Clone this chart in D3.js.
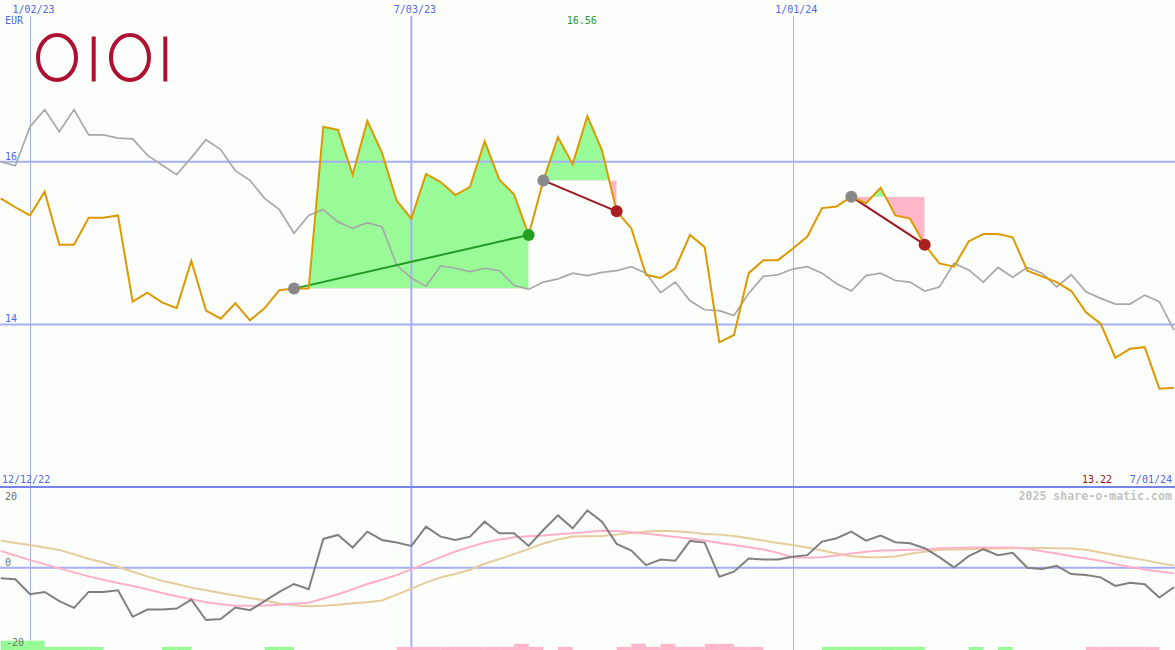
<!DOCTYPE html>
<html><head><meta charset="utf-8">
<script src="https://cdn.jsdelivr.net/npm/d3@7"></script>
<style>html,body{margin:0;padding:0;background:#fbfefb;}svg{display:block;}</style>
</head><body>
<svg id="chart" width="1175" height="650"></svg>
<script>
// ---------- DATA ----------
const startDate = new Date(2022, 11, 19);   // first weekly close
const endDate = new Date(2024, 6, 1);       // last weekly close
const tickDates = ["2023-01-02", "2023-07-03", "2024-01-01"];
const tickLabels = ["1/02/23", "7/03/23", "1/01/24"];
const priceTicks = [16, 14];
const oscTicks = [20, 0, -20];
const currency = "EUR";
const firstLabel = "12/12/22";
const lastLabel = "7/01/24";
const credit = "2025 share-o-matic.com";

// weekly closing price (EUR)
const price = [15.55,15.44,15.34,15.63,14.98,14.98,15.31,15.31,15.34,14.28,14.39,14.27,14.20,14.78,14.17,14.07,14.26,14.05,14.20,14.42,
  14.44,14.44,16.43,16.39,15.84,16.50,16.11,15.52,15.30,15.85,15.75,15.59,15.69,16.25,15.78,15.60,15.10,15.77,16.30,15.97,
  16.56,16.14,15.39,15.18,14.61,14.57,14.69,15.10,14.95,13.78,13.87,14.63,14.79,14.79,14.93,15.08,15.43,15.45,15.57,15.49,
  15.68,15.34,15.30,14.98,14.75,14.71,15.02,15.11,15.11,15.07,14.66,14.59,14.52,14.41,14.15,14.01,13.59,13.70,13.72,13.21,13.22];
// comparison index (rebased)
const benchmark = [16.00,15.95,16.43,16.64,16.37,16.64,16.33,16.33,16.29,16.28,16.08,15.96,15.84,16.05,16.27,16.15,15.89,15.77,15.55,15.41,
  15.12,15.34,15.41,15.26,15.18,15.25,15.20,14.73,14.57,14.47,14.72,14.69,14.65,14.69,14.66,14.48,14.43,14.52,14.56,14.63,
  14.60,14.64,14.66,14.71,14.63,14.39,14.52,14.29,14.18,14.17,14.11,14.38,14.59,14.61,14.68,14.71,14.63,14.50,14.41,14.60,
  14.63,14.54,14.52,14.41,14.46,14.75,14.67,14.52,14.70,14.58,14.70,14.63,14.46,14.61,14.40,14.32,14.25,14.25,14.36,14.28,13.93];
// oscillator (lower panel)
const momentum = [-3.2,-3.5,-8.0,-7.3,-10.1,-12.1,-7.3,-7.3,-6.8,-14.8,-12.6,-12.6,-12.3,-9.6,-15.8,-15.5,-12.0,-12.8,-10.1,-7.3,
  -4.9,-6.5,8.7,9.9,6.1,10.9,8.4,7.6,6.6,12.4,9.4,8.4,9.4,13.9,10.4,10.4,6.6,11.4,15.8,11.9,
  17.3,13.9,7.2,5.2,0.8,2.5,2.1,8.1,7.6,-2.7,-1.2,2.8,2.5,2.5,3.3,3.8,7.9,8.9,10.9,8.2,
  9.7,7.7,7.4,5.9,3.2,0.1,3.5,5.6,3.8,4.5,0.0,-0.4,0.6,-1.9,-2.2,-2.9,-5.5,-4.5,-5.0,-9.0,-5.9];
const fastAvg = [5.1,3.7,2.3,1.1,-0.2,-1.4,-2.6,-3.6,-4.6,-5.5,-6.5,-7.6,-8.6,-9.5,-10.4,-11.0,-11.5,-11.5,-11.4,-11.2,
  -10.9,-10.6,-9.3,-8.0,-6.5,-4.9,-3.6,-2.2,-0.5,1.4,3.2,4.9,6.3,7.6,8.5,9.2,9.5,9.7,10.1,10.4,
  10.8,11.2,11.1,10.7,10.3,9.8,9.3,8.8,8.2,7.5,6.9,6.2,5.5,4.5,3.2,3.0,3.2,3.7,4.3,4.8,
  5.2,5.3,5.4,5.5,5.9,6.0,6.1,6.1,6.1,6.1,5.7,5.0,4.3,3.5,2.8,2.1,1.1,0.2,-0.5,-1.1,-1.7];
const slowAvg = [8.2,7.5,6.9,6.1,5.4,4.1,2.7,1.6,0.3,-1.2,-2.6,-3.9,-4.9,-6.0,-6.8,-7.6,-8.4,-9.1,-9.9,-10.8,
  -11.3,-11.6,-11.5,-11.2,-10.7,-10.4,-9.9,-8.1,-6.3,-4.5,-2.9,-1.9,-0.6,1.2,2.6,4.1,5.7,7.3,8.5,9.4,
  9.5,9.6,10.0,10.5,10.9,11.2,11.0,10.7,10.2,10.0,9.6,8.9,8.2,7.5,6.9,6.1,5.2,4.3,3.5,3.2,
  3.2,3.4,4.2,4.8,5.4,5.5,5.6,5.7,5.8,5.9,6.0,6.0,5.9,5.8,5.4,4.6,3.8,3.0,2.3,1.4,0.7];
// weekly signal strength (+ buy zone, - sell zone), one per week interval
const signal = [3,3,3,1,1,1,1,0,0,0,0,1,1,0,0,0,0,0,1,1,
  0,0,0,0,0,0,0,-1,-1,-1,-1,-1,-1,-1,-1,-2,-1,0,-1,0,
  0,0,-1,-2,-1,-2,-1,-1,-2,-2,-1,-1,0,0,0,0,1,1,1,1,
  1,1,1,0,0,0,1,0,1,0,0,0,0,0,-1,-1,-1,-1,-1,0];
// trades: index of entry week, index of exit week
const tradeEntry = [20, 37, 58];
const tradeExit = [36, 42, 63];

// ---------- SETUP ----------
const dates = d3.timeMonday.range(startDate, d3.timeDay.offset(endDate, 1));
const parse = d3.timeParse("%Y-%m-%d");
const W = 1175, H = 650;
const svg = d3.select("#chart");
const x = d3.scaleTime().domain([parse("2023-01-02"), endDate]).range([30, 1174]);
const y = d3.scaleLinear().domain([14, 16]).range([324.4, 161.7]);
const y2 = d3.scaleLinear().domain([-20, 20]).range([634, 501.5]);
const barH = d3.scaleLinear().domain([0, 3]).range([0, 9.3]);

const C = {
  grid: "#a6aef4", sep: "#7585ec", lab: "#5565e8", orange: "#dd9900", gray: "#a8a8a8",
  dgray: "#808080", green: "#98fb98", pink: "#ffb6c8", tan: "#e6cc9c", pinkLine: "#ffb0c8",
  dgreen: "#229922", dred: "#a01522", logo: "#ad1030"
};
const font = "'DejaVu Sans Mono', monospace";

svg.append("rect").attr("width", W).attr("height", H).attr("fill", "#fbfefb");

const pts = dates.map((d, i) => ({d, i, p: price[i], b: benchmark[i], m: momentum[i], f: fastAvg[i], s: slowAvg[i]}));

// ---------- TRADE FILLS ----------
const defs = svg.append("defs");
const fills = svg.append("g");
tradeEntry.forEach((e, t) => {
  const xe = tradeExit[t];
  const base = price[e];
  const seg = pts.slice(e, xe + 1);
  const x0 = x(dates[e]), x1 = x(dates[xe]);
  const area = d3.area().x(d => x(d.d)).y0(y(base)).y1(d => y(d.p));
  defs.append("clipPath").attr("id", "up" + t).append("rect")
    .attr("x", x0).attr("width", x1 - x0).attr("y", 0).attr("height", y(base));
  defs.append("clipPath").attr("id", "dn" + t).append("rect")
    .attr("x", x0).attr("width", x1 - x0).attr("y", y(base)).attr("height", 490 - y(base));
  fills.append("path").attr("d", area(seg)).attr("fill", C.green).attr("clip-path", `url(#up${t})`);
  fills.append("path").attr("d", area(seg)).attr("fill", C.pink).attr("clip-path", `url(#dn${t})`);
});

// ---------- GRID ----------
const grid = svg.append("g");
priceTicks.forEach(v => {
  grid.append("line").attr("x1", 0).attr("x2", W).attr("y1", y(v)).attr("y2", y(v))
    .attr("stroke", C.grid).attr("stroke-width", 2);
});
grid.append("line").attr("x1", 0).attr("x2", W).attr("y1", y2(0)).attr("y2", y2(0))
  .attr("stroke", C.grid).attr("stroke-width", 2);
tickDates.forEach((s, i) => {
  const xx = x(parse(s));
  const wide = i === 1;
  grid.append("line").attr("x1", wide ? xx : Math.round(xx) + 0.5).attr("x2", wide ? xx : Math.round(xx) + 0.5)
    .attr("y1", 16).attr("y2", H).attr("stroke", C.grid).attr("stroke-width", wide ? 2 : 1);
});
svg.append("line").attr("x1", 0).attr("x2", W).attr("y1", 487).attr("y2", 487)
  .attr("stroke", C.sep).attr("stroke-width", 2);

// ---------- SIGNAL BARS ----------
svg.append("g").selectAll("rect").data(signal.map((v, i) => ({v, i})).filter(d => d.v !== 0))
  .join("rect")
  .attr("x", d => x(dates[d.i])).attr("width", d => x(dates[d.i + 1]) - x(dates[d.i]))
  .attr("y", d => H - barH(Math.abs(d.v))).attr("height", d => barH(Math.abs(d.v)))
  .attr("fill", d => d.v > 0 ? C.green : C.pink);

// ---------- LINES ----------
const line = acc => d3.line().x(d => x(d.d)).y(acc);
svg.append("path").attr("d", line(d => y(d.b))(pts)).attr("fill", "none").attr("stroke", C.gray).attr("stroke-width", 1.7);
svg.append("path").attr("d", line(d => y2(d.s))(pts)).attr("fill", "none").attr("stroke", C.tan).attr("stroke-width", 2);
svg.append("path").attr("d", line(d => y2(d.f))(pts)).attr("fill", "none").attr("stroke", C.pinkLine).attr("stroke-width", 2);
svg.append("path").attr("d", line(d => y2(d.m))(pts)).attr("fill", "none").attr("stroke", C.dgray).attr("stroke-width", 2);

// trade lines
tradeEntry.forEach((e, t) => {
  const xe = tradeExit[t];
  const win = price[xe] > price[e];
  svg.append("line").attr("x1", x(dates[e])).attr("y1", y(price[e])).attr("x2", x(dates[xe])).attr("y2", y(price[xe]))
    .attr("stroke", win ? C.dgreen : C.dred).attr("stroke-width", 2);
});

svg.append("path").attr("d", line(d => y(d.p))(pts)).attr("fill", "none").attr("stroke", C.orange).attr("stroke-width", 2);

// trade markers
tradeEntry.forEach((e, t) => {
  const xe = tradeExit[t];
  const win = price[xe] > price[e];
  svg.append("circle").attr("cx", x(dates[e])).attr("cy", y(price[e])).attr("r", 6).attr("fill", "#888888");
  svg.append("circle").attr("cx", x(dates[xe])).attr("cy", y(price[xe])).attr("r", 6).attr("fill", win ? "#22a022" : "#aa2020");
});

// ---------- TEXT ----------
const txt = (s, xx, yy, col, opts = {}) => svg.append("text").attr("x", xx).attr("y", yy).text(s)
  .attr("fill", col).attr("font-family", font).attr("font-size", opts.size || 10)
  .attr("font-weight", opts.weight || "normal").attr("text-anchor", opts.anchor || "start");

tickDates.forEach((s, i) => txt(tickLabels[i], x(parse(s)) - 17.5, 13, C.lab));
txt(currency, 5, 24, C.lab);
priceTicks.forEach(v => txt(String(v), 5, y(v) - 2, C.lab));
const oscMin = d3.min(oscTicks);
oscTicks.forEach(v => txt(String(v), v === oscMin ? 6 : 5, v === oscMin ? H - 4 : y2(v) - 2, "#707070"));

const maxI = d3.maxIndex(price);
txt(price[maxI].toFixed(2), x(dates[maxI]) - 5.5, 24, "#2a9a2a", {anchor: "middle"});
txt(price[price.length - 1].toFixed(2), 1112, 483, "#a01515", {anchor: "end"});
txt(firstLabel, 2, 483, C.lab);
txt(lastLabel, 1172, 483, C.lab, {anchor: "end"});
txt(credit, 1172, 500, "#c4c4c4", {size: 11.6, weight: "bold", anchor: "end"});

// ---------- LOGO ----------
const logo = svg.append("g").attr("fill", "none").attr("stroke", C.logo).attr("stroke-width", 4);
[57, 130].forEach(cx => logo.append("ellipse").attr("cx", cx).attr("cy", 57.5).attr("rx", 19).attr("ry", 22.5));
[93.7, 165.3].forEach(cx => logo.append("line").attr("x1", cx).attr("x2", cx).attr("y1", 36.5).attr("y2", 81.5));
</script>
</body></html>
